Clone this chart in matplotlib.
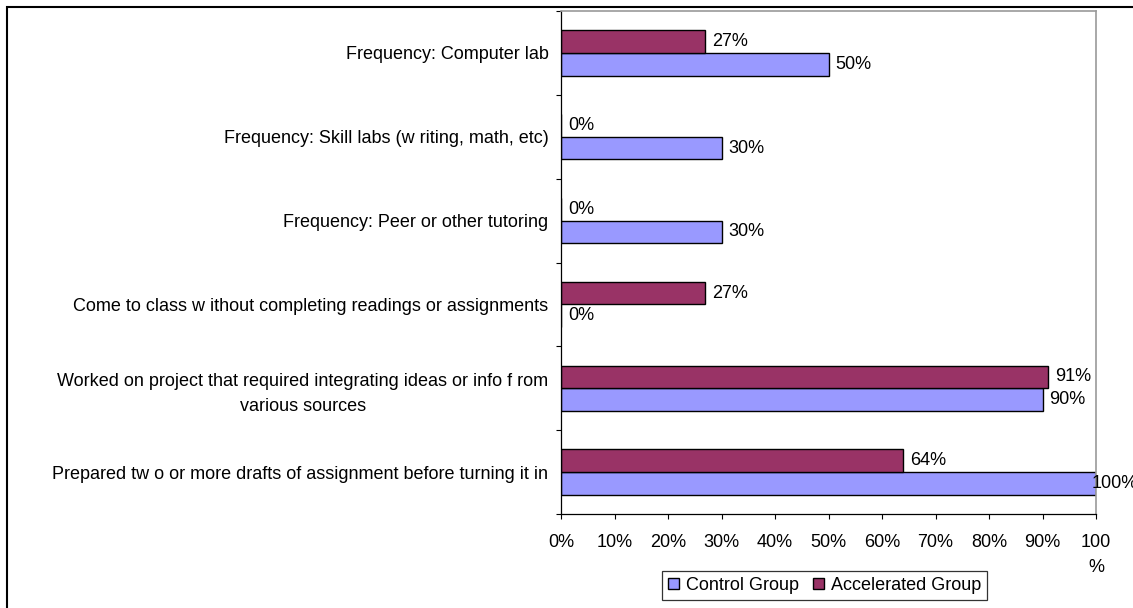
import matplotlib.pyplot as plt
from matplotlib.patches import Rectangle
import numpy as np

plt.rcParams['font.family'] = ['Liberation Sans', 'DejaVu Sans']
plt.rcParams['font.size'] = 13

categories = [
    "Frequency: Computer lab",
    "Frequency: Skill labs (w riting, math, etc)",
    "Frequency: Peer or other tutoring",
    "Come to class w ithout completing readings or assignments",
    "Worked on project that required integrating ideas or info f rom\nvarious sources",
    "Prepared tw o or more drafts of assignment before turning it in",
]
control = [50, 30, 30, 0, 90, 100]
accelerated = [27, 0, 0, 27, 91, 64]
xticks = [0, 10, 20, 30, 40, 50, 60, 70, 80, 90, 100]
xticklabels = ["0%", "10%", "20%", "30%", "40%", "50%", "60%", "70%", "80%", "90%", "100\n%"]

W, H = 1133, 608
fig = plt.figure(figsize=(W / 100, H / 100), dpi=100)
ax = fig.add_axes([561 / W, 1 - 514 / H, (1096 - 561) / W, (514 - 11) / H])

y = np.arange(len(categories))
h = 0.27
b1 = ax.barh(y + h / 2, control, height=h, color='#9999FF', edgecolor='black',
             linewidth=1, label='Control Group')
b2 = ax.barh(y - h / 2, accelerated, height=h, color='#993366', edgecolor='black',
             linewidth=1, label='Accelerated Group')

# value labels to the right of each bar
for bars, vals in ((b1, control), (b2, accelerated)):
    for bar, v in zip(bars, vals):
        dx = 5 if v < 100 else -3
        ax.annotate(f"{v}%", (v, bar.get_y() + bar.get_height() / 2),
                    xytext=(dx, 0), textcoords='offset points',
                    va='center', ha='left', annotation_clip=False)

ax.set_xlim(0, 100)
ax.set_ylim(len(categories) - 0.5, -0.5)
ax.set_xticks(xticks)
ax.set_xticklabels(xticklabels, va='top', linespacing=1.6)
ax.set_yticks(np.arange(len(categories) + 1) - 0.5)
ax.set_yticklabels([])
ax.set_yticks(y, minor=True)
ax.set_yticklabels(categories, minor=True, ha='right',
                   multialignment='center', linespacing=1.6)
ax.tick_params(axis='y', which='minor', length=0, pad=9)
ax.tick_params(axis='y', which='major', length=3.6, direction='out', width=0.8)
ax.tick_params(axis='x', length=3.6, direction='out', width=0.8, pad=11)

for s in ('top', 'right'):
    ax.spines[s].set_color('#999999')
    ax.spines[s].set_linewidth(1.2)
for s in ('left', 'bottom'):
    ax.spines[s].set_color('black')
    ax.spines[s].set_linewidth(0.9)

leg = fig.legend(handles=[b1, b2], loc='center',
                 bbox_to_anchor=(824.5 / W, 1 - 585.5 / H), ncol=2, frameon=True,
                 fancybox=False, edgecolor='black',
                 handlelength=0.6, handleheight=0.6, handletextpad=0.39,
                 columnspacing=0.78, borderpad=0.35, borderaxespad=0)
leg.get_frame().set_linewidth(0.9)

fig.patches.append(Rectangle((7 / W, -0.05), 1.1, 1.05 - 7 / H,
                             transform=fig.transFigure, fill=False,
                             edgecolor='black', linewidth=1.5))

fig.savefig("out.png", dpi=100)
